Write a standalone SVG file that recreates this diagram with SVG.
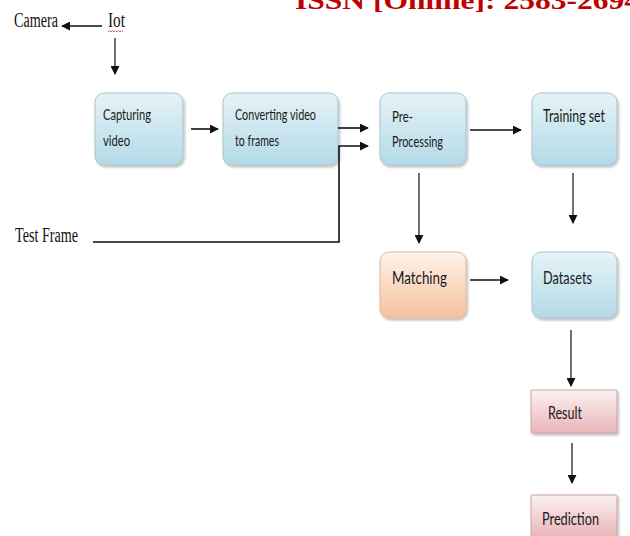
<svg xmlns="http://www.w3.org/2000/svg" width="630" height="536" viewBox="0 0 630 536">
<style>
  .serif{font-family:"Liberation Serif","DejaVu Serif",serif;font-size:20px;fill:#111;}
  .lbl{font-family:Lato,"Open Sans","Liberation Sans",sans-serif;font-size:16px;fill:#1a1a1a;}
  .big{font-size:17px;}
  .box{stroke:#a9c3cc;stroke-width:1;filter:url(#sh);}
  .blue{fill:url(#gBlue);}
  .orange{fill:url(#gOrange);stroke:#e0b79a;}
  .pink{fill:url(#gPink);stroke:#c9a3a6;}
  .conn{fill:none;stroke:#111;stroke-width:1.6;}
  .thin{stroke-width:1.2;}
  .head{fill:#111;}
</style>
<defs>
  <linearGradient id="gBlue" x1="0" y1="0" x2="0" y2="1">
    <stop offset="0" stop-color="#e6f3f8"/>
    <stop offset="1" stop-color="#b3dae7"/>
  </linearGradient>
  <linearGradient id="gOrange" x1="0" y1="0" x2="0" y2="1">
    <stop offset="0" stop-color="#fdf2ea"/>
    <stop offset="1" stop-color="#f5c29e"/>
  </linearGradient>
  <linearGradient id="gPink" x1="0" y1="0" x2="0" y2="1">
    <stop offset="0" stop-color="#fcf0f0"/>
    <stop offset="1" stop-color="#e8b5b8"/>
  </linearGradient>
  <filter id="sh" x="-10%" y="-10%" width="125%" height="130%">
    <feDropShadow dx="1.5" dy="2" stdDeviation="1.2" flood-color="#000" flood-opacity="0.25"/>
  </filter>
  <marker id="ah" viewBox="0 0 10 10" refX="9" refY="5" markerWidth="9" markerHeight="9" orient="auto" markerUnits="userSpaceOnUse" preserveAspectRatio="none">
    <path d="M0,0 L10,5 L0,10 z" class="head"/>
  </marker>
</defs>

<text x="295" y="9" textLength="345" lengthAdjust="spacingAndGlyphs" style="font-family:'Liberation Serif','DejaVu Serif',serif;font-size:26px;font-weight:bold;fill:#c00000;">ISSN [Online]: 2583-2694</text>

<g id="camera"><text class="serif" x="14" y="27" textLength="44" lengthAdjust="spacingAndGlyphs">Camera</text></g>
<g id="iot">
  <text class="serif" x="108" y="27" textLength="17" lengthAdjust="spacingAndGlyphs">Iot</text>
  <path d="M108,32 l1.5,-1.5 l1.5,1.5 l1.5,-1.5 l1.5,1.5 l1.5,-1.5 l1.5,1.5 l1.5,-1.5 l1.5,1.5 l1.5,-1.5 l1.5,1.5" fill="none" stroke="#c04040" stroke-width="0.8"/>
</g>
<g id="testframe"><text class="serif" x="15" y="242" textLength="63" lengthAdjust="spacingAndGlyphs">Test Frame</text></g>

<g id="capturing">
  <rect class="box blue" x="95" y="93" width="88" height="72" rx="9"/>
  <text class="lbl" x="103" y="120" textLength="48" lengthAdjust="spacingAndGlyphs">Capturing</text>
  <text class="lbl" x="103" y="146" textLength="27" lengthAdjust="spacingAndGlyphs">video</text>
</g>
<g id="converting">
  <rect class="box blue" x="223" y="93" width="115" height="72" rx="9"/>
  <text class="lbl" x="235" y="120" textLength="81" lengthAdjust="spacingAndGlyphs">Converting video</text>
  <text class="lbl" x="235" y="146" textLength="44" lengthAdjust="spacingAndGlyphs">to frames</text>
</g>
<g id="preprocessing">
  <rect class="box blue" x="380" y="93" width="86" height="72" rx="9"/>
  <text class="lbl" x="392" y="122" textLength="21" lengthAdjust="spacingAndGlyphs">Pre-</text>
  <text class="lbl" x="392" y="147" textLength="51" lengthAdjust="spacingAndGlyphs">Processing</text>
</g>
<g id="training">
  <rect class="box blue" x="532" y="93" width="85" height="72" rx="9"/>
  <text class="lbl big" x="543" y="122" textLength="62" lengthAdjust="spacingAndGlyphs">Training set</text>
</g>
<g id="matching">
  <rect class="box orange" x="380" y="252" width="86" height="66" rx="9"/>
  <text class="lbl big" x="392" y="284" textLength="55" lengthAdjust="spacingAndGlyphs">Matching</text>
</g>
<g id="datasets">
  <rect class="box blue" x="532" y="252" width="85" height="66" rx="9"/>
  <text class="lbl big" x="543" y="284" textLength="49" lengthAdjust="spacingAndGlyphs">Datasets</text>
</g>
<g id="result">
  <rect class="box pink" x="531" y="390" width="86" height="43" rx="1"/>
  <text class="lbl big" x="548" y="419" textLength="34" lengthAdjust="spacingAndGlyphs">Result</text>
</g>
<g id="prediction">
  <rect class="box pink" x="531" y="495" width="86" height="42" rx="1"/>
  <text class="lbl big" x="542" y="525" textLength="57" lengthAdjust="spacingAndGlyphs">Prediction</text>
</g>

<g id="connectors">
  <line class="conn" x1="102" y1="26" x2="62" y2="26" marker-end="url(#ah)"/>
  <line class="conn thin" x1="115" y1="38" x2="115" y2="74" marker-end="url(#ah)"/>
  <line class="conn" x1="191" y1="129" x2="218" y2="129" marker-end="url(#ah)"/>
  <line class="conn" x1="338" y1="128" x2="368" y2="128" marker-end="url(#ah)"/>
  <polyline class="conn" points="93,242 339,242 339,146 368,146" marker-end="url(#ah)"/>
  <line class="conn" x1="470" y1="130" x2="521" y2="130" marker-end="url(#ah)"/>
  <line class="conn thin" x1="573" y1="173" x2="573" y2="223" marker-end="url(#ah)"/>
  <line class="conn thin" x1="419" y1="173" x2="419" y2="243" marker-end="url(#ah)"/>
  <line class="conn" x1="470" y1="280" x2="508" y2="280" marker-end="url(#ah)"/>
  <line class="conn thin" x1="571" y1="330" x2="571" y2="386" marker-end="url(#ah)"/>
  <line class="conn thin" x1="572" y1="443" x2="572" y2="483" marker-end="url(#ah)"/>
</g>
</svg>
